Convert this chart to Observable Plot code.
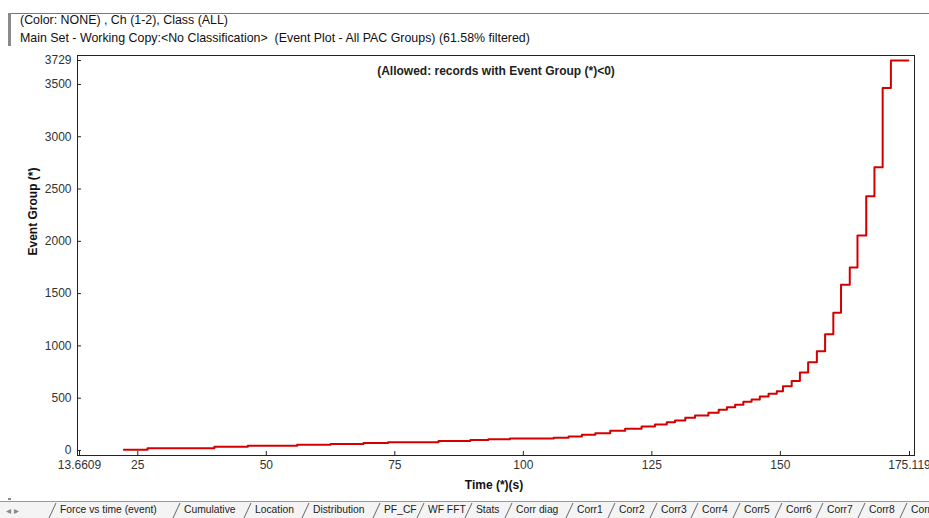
<!DOCTYPE html>
<html>
<head>
<meta charset="utf-8">
<script src="https://cdn.jsdelivr.net/npm/d3@7"></script>
<script src="https://cdn.jsdelivr.net/npm/@observablehq/plot@0.6"></script>
<style>
  html, body { margin: 0; padding: 0; background: #fff; }
  body { width: 929px; height: 518px; position: relative; overflow: hidden; font-family: "Liberation Sans", Arial, sans-serif; }
  .hdr { position: absolute; left: 20px; font-size: 12.4px; color: #111; white-space: nowrap; line-height: 14px; }
  #chart { position: absolute; left: 0; top: 46px; }
  .vbar { position: absolute; left: 8px; top: 13px; width: 3px; height: 487px; background: #8a8a8a; }
  .hbar { position: absolute; left: 8px; top: 13px; width: 921px; height: 1px; background: #777; }
  .tabbar { position: absolute; left: 0; top: 501px; width: 929px; height: 17px; background: #f4f4f4; border-top: 1px solid #999; }
  .tab { position: absolute; top: 2px; font-family: "Liberation Sans Narrow", "Liberation Sans", Arial, sans-serif; font-size: 10.3px; color: #222; white-space: nowrap; }
  .sep { position: absolute; top: 1px; width: 1px; height: 15px; background: #666; transform: skewX(-25deg); }
</style>
</head>
<body>
<div class="hbar"></div>
<div class="vbar"></div>
<div class="hdr" style="top:13px">(Color: NONE) , Ch (1-2), Class (ALL)</div>
<div class="hdr" style="top:31px">Main Set - Working Copy:&lt;No Classification&gt;&nbsp; (Event Plot - All PAC Groups) (61.58% filtered)</div>
<div id="chart"></div>
<div class="tabbar" id="tabs"></div>
<script>
// Data (step changes of the cumulative event count)
const times = [22.3, 26.9, 39.9, 46.4, 56.0, 62.5, 68.9, 73.7, 83.5, 89.7, 93.2, 97.4, 105.9, 108.8, 111.4, 114.0, 116.9, 119.8, 123.0, 125.6, 127.9, 129.5, 131.5, 133.4, 136.0, 138.0, 139.6, 141.2, 142.8, 144.4, 146.0, 147.7, 149.3, 150.5, 152.2, 153.8, 155.4, 157.1, 158.7, 160.3, 161.8, 163.5, 165.0, 166.7, 168.3, 169.9, 171.5, 174.9];
const counts = [8, 22, 36, 46, 55, 62, 72, 80, 90, 100, 108, 115, 121, 134, 150, 166, 188, 207, 229, 249, 270, 287, 313, 335, 360, 389, 414, 437, 466, 488, 516, 542, 567, 615, 665, 745, 844, 949, 1112, 1316, 1585, 1750, 2055, 2431, 2709, 3466, 3729, 3729];
const xTicks = [13.6609, 25, 50, 75, 100, 125, 150, 175.119];
const yTicks = [0, 500, 1000, 1500, 2000, 2500, 3000, 3500, 3729];
const xDomain = [13.6609, 175.119];
const yDomain = [0, 3729];
const xLabel = "Time (*)(s)";
const yLabel = "Event Group (*)";
const note = "(Allowed: records with Event Group (*)<0)";
const tabLabels = ["Force vs time (event)", "Cumulative", "Location", "Distribution", "PF_CF", "WF FFT", "Stats", "Corr diag", "Corr1", "Corr2", "Corr3", "Corr4", "Corr5", "Corr6", "Corr7", "Corr8", "Corr"];
// layout only: left edges of the tab labels in the strip
const tabLefts = [60, 184, 255, 313, 384, 428, 476, 516, 577, 619, 661, 702, 744, 786, 827, 869, 911];

const data = times.map((t, i) => ({t, v: counts[i]}));

const plot = Plot.plot({
  width: 929,
  height: 452,
  marginLeft: 77,
  marginRight: 15,
  marginTop: 9,
  marginBottom: 43,
  insetLeft: 2,
  insetRight: 5,
  insetTop: 5,
  insetBottom: 5,
  style: {fontFamily: "'Liberation Sans', Arial, sans-serif", fontSize: "12px", color: "#333", background: "#fff"},
  x: {domain: xDomain},
  y: {domain: yDomain},
  marks: [
    Plot.frame({stroke: "#222", strokeWidth: 1}),
    Plot.axisX({ticks: xTicks, tickFormat: d => String(d), tickSize: -4, tickPadding: 9, label: null, stroke: "#222"}),
    Plot.axisY({ticks: yTicks, tickFormat: d => String(d), tickSize: -4, tickPadding: 10, label: null, stroke: "#222"}),
    Plot.line(data, {x: "t", y: "v", curve: "step-after", stroke: "#d40000", strokeWidth: 2}),
    Plot.text([note], {frameAnchor: "top", dy: 11, fontWeight: "bold", fontSize: 12, fill: "#222"}),
    Plot.text([xLabel], {frameAnchor: "bottom", dy: 33, dx: -2, fontWeight: "bold", fontSize: 12, fill: "#111"}),
    Plot.text([yLabel], {frameAnchor: "left", dx: -44, rotate: -90, fontWeight: "bold", fontSize: 12, fill: "#111"})
  ]
});
document.getElementById("chart").appendChild(plot);

// UI tab strip below the chart
const tabs = document.getElementById("tabs");
const arrows = document.createElement("div");
arrows.className = "tab";
arrows.style.left = "6px";
arrows.style.color = "#888";
arrows.textContent = "◂ ▸";
tabs.appendChild(arrows);
tabLabels.forEach((label, i) => {
  const left = tabLefts[i];
  const s = document.createElement("div");
  s.className = "sep";
  s.style.left = (left - 8) + "px";
  tabs.appendChild(s);
  const el = document.createElement("div");
  el.className = "tab";
  el.style.left = left + "px";
  el.textContent = label;
  tabs.appendChild(el);
});
</script>
</body>
</html>
